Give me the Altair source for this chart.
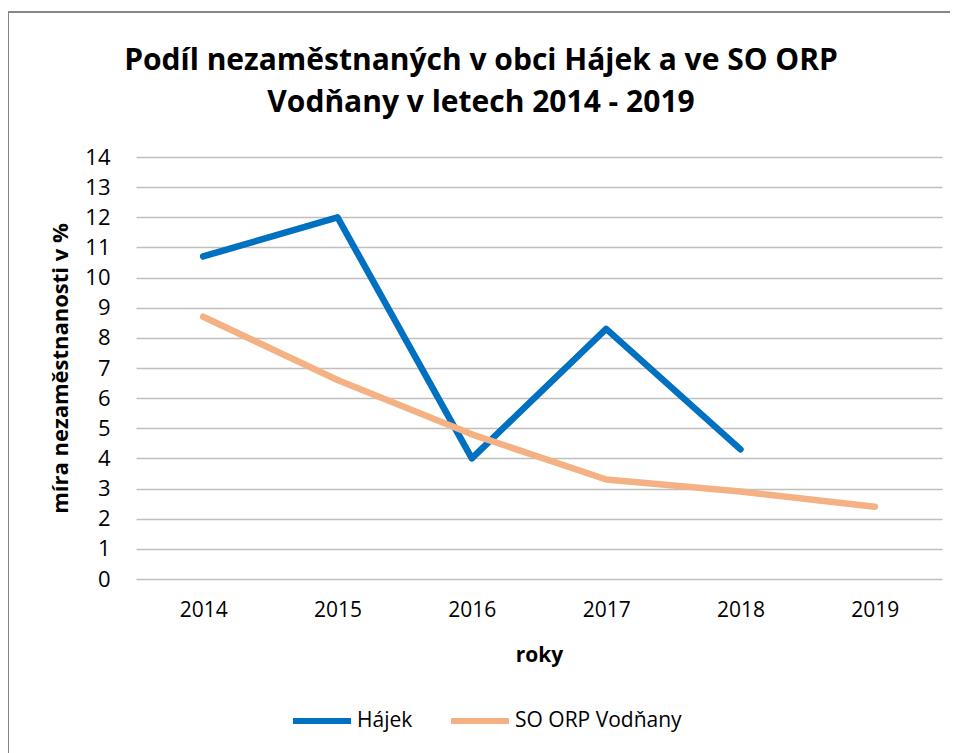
import altair as alt
import pandas as pd

years = ["2014", "2015", "2016", "2017", "2018", "2019"]
hajek = [10.7, 12.0, 4.0, 8.3, 4.3, None]
orp = [8.7, 6.6, 4.8, 3.3, 2.9, 2.4]
series_names = ["Hájek", "SO ORP Vodňany"]
colors = ["#0070C0", "#F4B183"]
y_ticks = list(range(0, 15))
title_lines = ["Podíl nezaměstnaných v obci Hájek a ve SO ORP",
               "Vodňany v letech 2014 - 2019"]

rows = []
for y, a, b in zip(years, hajek, orp):
    rows.append({"rok": y, "hodnota": a, "rada": series_names[0]})
    rows.append({"rok": y, "hodnota": b, "rada": series_names[1]})
df = pd.DataFrame(rows)

FONT = "Open Sans, sans-serif"
W, H = 806, 422

lines = alt.Chart(df).mark_line(strokeWidth=6.5, strokeCap="round", strokeJoin="round").encode(
    x=alt.X("rok:O", sort=years,
            scale=alt.Scale(type="point", padding=0.5),
            axis=alt.Axis(title="roky", labelAngle=0, domain=False, ticks=False,
                          labelPadding=20, titlePadding=24,
                          labelFontSize=21, titleFontSize=21, titleFontWeight="bold",
                          labelColor="#000000", titleColor="#000000",
                          labelFont=FONT, titleFont=FONT)),
    y=alt.Y("hodnota:Q",
            scale=alt.Scale(domain=[0, 14], nice=False),
            axis=alt.Axis(title="míra nezaměstnanosti  v %", values=y_ticks,
                          domain=False, ticks=False, labelPadding=26, titlePadding=12,
                          grid=True, gridColor="#BFBFBF", gridWidth=1.5,
                          labelFontSize=22, titleFontSize=22, titleFontWeight="bold",
                          labelColor="#000000", titleColor="#000000",
                          labelFont=FONT, titleFont=FONT)),
    color=alt.Color("rada:N", sort=series_names,
                    scale=alt.Scale(domain=series_names, range=colors),
                    legend=alt.Legend(title=None, orient="none", direction="horizontal",
                                      legendX=154, legendY=532,
                                      symbolType="stroke", symbolSize=3364,
                                      symbolStrokeWidth=6, labelFontSize=21,
                                      labelFont=FONT, labelColor="#000000",
                                      labelLimit=400,
                                      columnPadding=26, labelOffset=3)),
)

frame = alt.Chart(pd.DataFrame({"k": [0]})).mark_rect(
    fill=None, stroke="#868686", strokeWidth=2
).encode(
    x=alt.value(-128), x2=alt.value(819), y=alt.value(-145), y2=alt.value(640)
)

title1 = alt.Chart(pd.DataFrame({"t": [title_lines[0]]})).mark_text(
    font=FONT, fontSize=30, fontWeight="bold", color="#000000",
    align="center", baseline="alphabetic"
).encode(text="t:N", x=alt.value(345), y=alt.value(-87))

title2 = alt.Chart(pd.DataFrame({"t": [title_lines[1]]})).mark_text(
    font=FONT, fontSize=30, fontWeight="bold", color="#000000",
    align="center", baseline="alphabetic"
).encode(text="t:N", x=alt.value(345), y=alt.value(-45))

chart = alt.layer(frame, lines, title1, title2).properties(
    width=W, height=H,
    autosize=alt.AutoSizeParams(type="none"),
    padding={"left": 128, "top": 149, "right": 8, "bottom": 174},
).configure_view(stroke=None)

chart.save("out.html", embed_options={"renderer": "svg", "actions": False})
